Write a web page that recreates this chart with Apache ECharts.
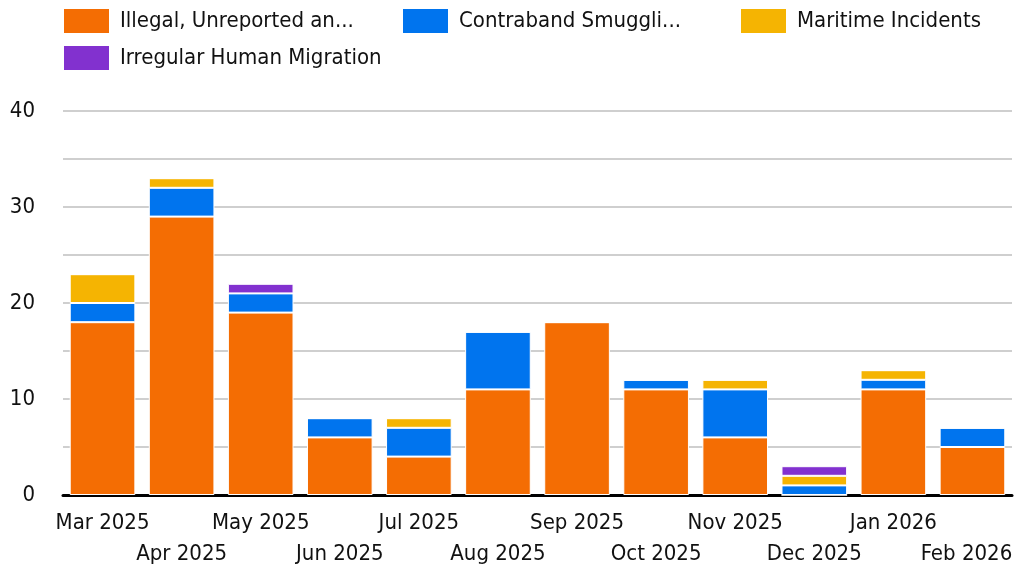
<!DOCTYPE html>
<html>
<head>
<meta charset="utf-8">
<script src="https://cdn.jsdelivr.net/npm/echarts@6/dist/echarts.min.js"></script>
<style>
  html, body { margin: 0; padding: 0; background: #fff; overflow: hidden; }
  #chart { width: 1014px; height: 569px; }
</style>
</head>
<body>
<div id="chart"></div>
<script>
// Monthly incident counts by category
const months = ['Mar 2025', 'Apr 2025', 'May 2025', 'Jun 2025', 'Jul 2025', 'Aug 2025',
                'Sep 2025', 'Oct 2025', 'Nov 2025', 'Dec 2025', 'Jan 2026', 'Feb 2026'];
const seriesNames = ['Illegal, Unreported and Unregulated Fishing', 'Contraband Smuggling',
                     'Maritime Incidents', 'Irregular Human Migration'];
const legendLabels = ['Illegal, Unreported an...', 'Contraband Smuggli...',
                      'Maritime Incidents', 'Irregular Human Migration'];
const fishing   = [18, 29, 19, 6, 4, 11, 18, 11, 6, 0, 11, 5];
const smuggling = [2, 3, 2, 2, 3, 6, 0, 1, 5, 1, 1, 2];
const maritime  = [3, 1, 0, 0, 1, 0, 0, 0, 1, 1, 1, 0];
const migration = [0, 0, 1, 0, 0, 0, 0, 0, 0, 1, 0, 0];
const yTicks = [0, 10, 20, 30, 40];

const colors = ['#f46d03', '#0074ee', '#f5b402', '#8231cf'];
const values = [fishing, smuggling, maritime, migration];
const FONT = 'DejaVu Sans Condensed';

const chart = echarts.init(document.getElementById('chart'), null, { renderer: 'canvas' });

// one legend block per entry so each sits at its own spot
const legendPos = [
  { left: 62, top: 7 },
  { left: 401, top: 7 },
  { left: 739, top: 7 },
  { left: 62, top: 44 }
];
const legends = seriesNames.map((n, i) => ({
  data: [n],
  left: legendPos[i].left,
  top: legendPos[i].top,
  padding: 0,
  itemWidth: 47,
  itemHeight: 26,
  itemGap: 0,
  icon: 'rect',
  formatter: () => legendLabels[i],
  textStyle: { fontFamily: FONT, fontSize: 22, color: '#111', padding: [0, 0, 0, 5] }
}));

// month labels alternate between two rows; the last one is nudged in from the edge
function monthLabel(v, i) {
  const text = i === months.length - 1 ? '{edge|' + v + '}' : v;
  return i % 2 === 1 ? '\n' + text : text;
}

chart.setOption({
  animation: false,
  color: colors,
  legend: legends,
  grid: { left: 63, right: 2, top: 111, bottom: 74, containLabel: false, outerBoundsMode: 'none' },
  xAxis: {
    type: 'category',
    data: months,
    axisLine: { lineStyle: { color: '#000', width: 3 } },
    axisTick: { show: false },
    axisLabel: {
      interval: 0,
      margin: 13,
      fontFamily: FONT,
      fontSize: 22,
      color: '#111',
      lineHeight: 31,
      formatter: monthLabel,
      rich: {
        edge: { fontFamily: FONT, fontSize: 22, color: '#111', lineHeight: 31, padding: [0, 12, 0, 0] }
      }
    }
  },
  yAxis: {
    type: 'value',
    min: 0,
    max: 40,
    interval: 5,
    axisLine: { show: false },
    axisTick: { show: false },
    splitLine: { lineStyle: { color: '#cfcfcf', width: 2 } },
    axisLabel: {
      margin: 28,
      fontFamily: FONT,
      fontSize: 22,
      color: '#111',
      formatter: v => (yTicks.indexOf(v) >= 0 ? String(v) : '')
    }
  },
  series: seriesNames.map((n, i) => ({
    name: n,
    type: 'bar',
    stack: 'total',
    data: values[i],
    barCategoryGap: '17%',
    itemStyle: { color: colors[i], borderColor: '#fff', borderWidth: 1 }
  }))
});
</script>
</body>
</html>
